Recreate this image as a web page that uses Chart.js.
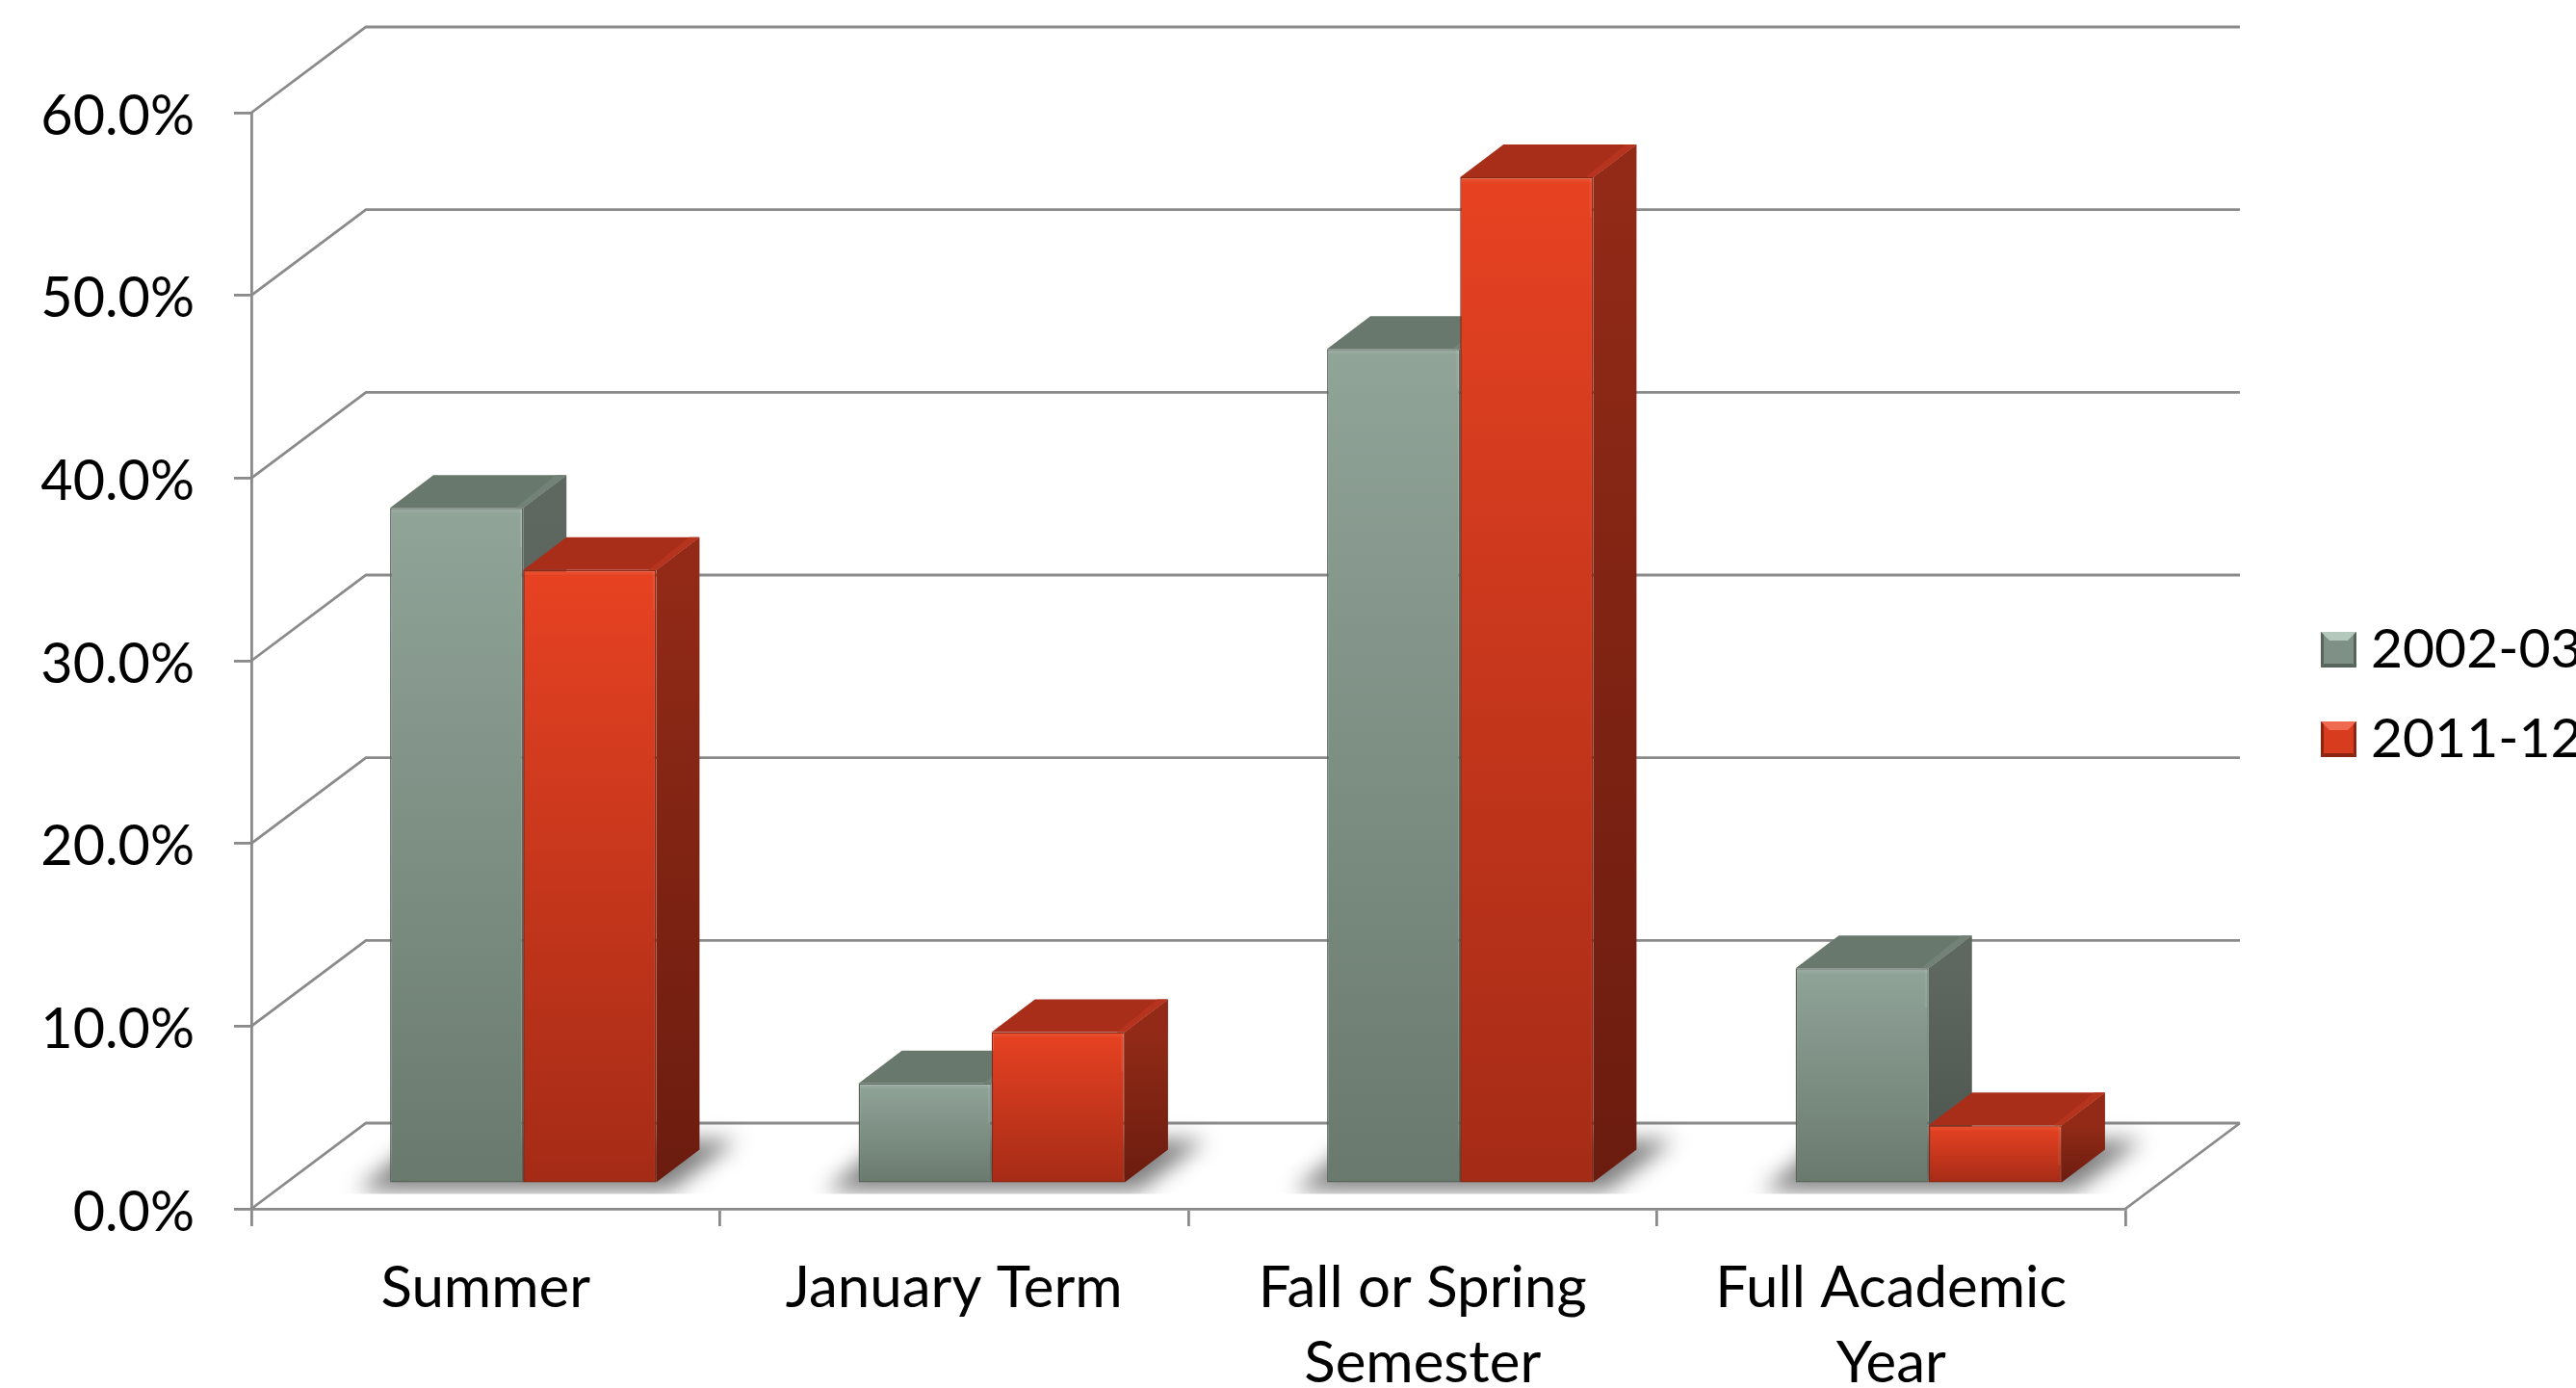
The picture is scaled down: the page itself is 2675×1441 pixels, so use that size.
<!DOCTYPE html>
<html>
<head>
<meta charset="utf-8">
<style>html,body{margin:0;padding:0;background:#fff;overflow:hidden}canvas{display:block}</style>
<script src="https://cdn.jsdelivr.net/npm/chart.js@4"></script>
</head>
<body>
<canvas id="c" width="2675" height="1441"></canvas>
<script>
const categories = ['Summer', 'January Term', ['Fall or Spring', 'Semester'], ['Full Academic', 'Year']];
const seriesNames = ['2002-03', '2011-12'];
const values2002 = [37.0, 5.5, 45.7, 11.8];
const values2011 = [33.6, 8.3, 55.1, 3.2];
const yMin = 0, yMax = 60, yStep = 10;

const FONT = 'Lato';
const LINE = '#8a8a8a';
const WALL = {dx: 119, dy: -89};
const PLANE = {dx: 39, dy: -26};
const BAR = {dx: 45, dy: -34};
const PAL = [
  {hi:'#91a498', lo:'#69796e', edge:'#56645b', topc:'#69786d', corner:'#738277', sideHi:'#5e6860', sideLo:'#4a544d', gloss:'rgba(255,255,255,.07)'},
  {hi:'#e74222', lo:'#a52b16', edge:'#8b2411', topc:'#a82e1a', corner:'#b6341d', sideHi:'#922a17', sideLo:'#6b1c0f', gloss:'rgba(255,170,120,.10)'}
];

function swatch(p){
  const s = 37, cv = document.createElement('canvas'); cv.width = cv.height = s;
  const g = cv.getContext('2d'), b = 9;
  g.fillStyle = p.hi === PAL[0].hi ? '#7f9186' : '#d83c1f';
  g.fillRect(0,0,s,s);
  const poly = (pts, col) => { g.fillStyle = col; g.beginPath(); pts.forEach((q,i)=> i?g.lineTo(q[0],q[1]):g.moveTo(q[0],q[1])); g.closePath(); g.fill(); };
  poly([[0,0],[s,0],[s-b,b],[b,b]], p.hi === PAL[0].hi ? '#b4c8bc' : '#f06a52');
  poly([[0,s],[s,s],[s-4,s-4],[4,s-4]], p.edge);
  poly([[0,0],[3,3],[3,s-3],[0,s]], p.edge);
  poly([[s,0],[s-3,3],[s-3,s-3],[s,s]], p.edge);
  return cv;
}
const swatches = PAL.map(swatch);

function barGradient(chart, p, value){
  const y = chart.scales.y;
  if (!y || typeof value !== 'number') return p.hi;
  const a = y.getPixelForValue(value), b = y.getPixelForValue(0);
  if (!isFinite(a) || !isFinite(b)) return p.hi;
  const g = chart.ctx.createLinearGradient(0, a, 0, b);
  g.addColorStop(0, p.hi); g.addColorStop(1, p.lo);
  return g;
}

function path(ctx, pts){
  ctx.beginPath();
  pts.forEach((q,i)=> i ? ctx.lineTo(q[0],q[1]) : ctx.moveTo(q[0],q[1]));
  ctx.closePath();
}

const depthPlugin = {
  id: 'depth',
  afterLayout(chart){
    const l = chart.legend;
    l.left = 2387.5; l.right = 2700; l.top = 610; l.bottom = 900;
  },
  beforeDatasetsDraw(chart){
    const {ctx, scales:{x, y}} = chart;
    // walls and floor
    ctx.save();
    ctx.strokeStyle = LINE; ctx.lineWidth = 2.8; ctx.lineJoin = 'miter';
    const wx = x.left + WALL.dx, wr = x.right + WALL.dx;
    y.ticks.forEach(t => {
      const py = y.getPixelForValue(t.value);
      ctx.beginPath();
      ctx.moveTo(x.left, py); ctx.lineTo(wx, py + WALL.dy); ctx.lineTo(wr, py + WALL.dy);
      ctx.stroke();
    });
    const y0 = y.getPixelForValue(0);
    ctx.beginPath(); ctx.moveTo(x.right, y0); ctx.lineTo(wr, y0 + WALL.dy); ctx.stroke();
    ctx.restore();

    ctx.save();
    ctx.translate(PLANE.dx, PLANE.dy);
    const m0 = chart.getDatasetMeta(0), m1 = chart.getDatasetMeta(1);
    // floor shadows
    m0.data.forEach((el, i) => {
      const a = el.getProps(['x','base','width'], true), b = m1.data[i].getProps(['x','width'], true);
      const x0 = a.x - a.width/2, x1 = b.x + b.width/2, base = a.base;
      ctx.save();
      ctx.beginPath(); ctx.rect(x0 - 120, base - 110, x1 - x0 + 300, 122); ctx.clip();
      ctx.filter = 'blur(11px)';
      ctx.fillStyle = 'rgba(0,0,0,.5)';
      path(ctx, [[x0-34, base+9],[x1+14, base+9],[x1+84, base-44],[x0+30, base-44]]);
      ctx.fill();
      ctx.restore();
    });
    // side and top faces, back series first
    [m0, m1].forEach((meta, d) => {
      const p = PAL[d];
      meta.data.forEach(el => {
        const {x:bx, y:by, base, width} = el.getProps(['x','y','base','width'], true);
        const l = bx - width/2, r = bx + width/2;
        const sg = ctx.createLinearGradient(0, by, 0, base);
        sg.addColorStop(0, p.sideHi); sg.addColorStop(1, p.sideLo);
        ctx.fillStyle = sg;
        path(ctx, [[r,by],[r+BAR.dx,by+BAR.dy],[r+BAR.dx,base+BAR.dy],[r,base]]); ctx.fill();
        ctx.fillStyle = p.topc;
        path(ctx, [[l,by],[l+BAR.dx,by+BAR.dy],[r+BAR.dx,by+BAR.dy],[r,by]]); ctx.fill();
        ctx.fillStyle = p.corner;
        path(ctx, [[r-8,by],[r+BAR.dx-11,by+BAR.dy],[r+BAR.dx,by+BAR.dy],[r,by]]); ctx.fill();
      });
    });
    // translation stays on for the library's own bars, undone in afterDatasetsDraw
  },
  afterDatasetsDraw(chart){
    const {ctx} = chart;
    [0,1].forEach(d => {
      const p = PAL[d];
      chart.getDatasetMeta(d).data.forEach(el => {
        const {x:bx, y:by, width} = el.getProps(['x','y','width'], true);
        ctx.fillStyle = p.gloss;
        ctx.fillRect(bx - width/2 + 1, by + 1, width - 2, 4);
        ctx.fillRect(bx + width/2 - 4, by + 1, 3, 40);
      });
    });
    ctx.restore();
  }
};

new Chart(document.getElementById('c'), {
  type: 'bar',
  data: {
    labels: categories,
    datasets: [
      { label: seriesNames[0], data: values2002,
        backgroundColor: c => barGradient(c.chart, PAL[0], c.raw),
        borderColor: PAL[0].edge, borderWidth: 1.5, borderSkipped: false },
      { label: seriesNames[1], data: values2011,
        backgroundColor: c => barGradient(c.chart, PAL[1], c.raw),
        borderColor: PAL[1].edge, borderWidth: 1.5, borderSkipped: false }
    ]
  },
  plugins: [depthPlugin],
  options: {
    responsive: false,
    devicePixelRatio: 1,
    animation: false,
    clip: false,
    categoryPercentage: 0.568,
    barPercentage: 1,
    layout: { padding: { top: 117, right: 218, left: 0, bottom: 0 } },
    plugins: {
      title: { display: false },
      tooltip: { enabled: false },
      legend: {
        position: 'right',
        align: 'start',
        maxWidth: 250,
        labels: {
          usePointStyle: true,
          boxWidth: 10,
          padding: 36,
          color: '#000',
          font: { family: FONT, size: 57 },
          generateLabels(chart){
            return Chart.defaults.plugins.legend.labels.generateLabels(chart)
              .map((it, i) => Object.assign(it, { pointStyle: swatches[i] }));
          }
        }
      }
    },
    scales: {
      x: {
        type: 'category',
        offset: true,
        afterFit(s){ s.height = 186; },
        grid: { display: true, offset: true, drawOnChartArea: false, drawTicks: true, tickLength: 18, color: LINE, lineWidth: 2.8 },
        border: { display: true, color: LINE, width: 2.8 },
        ticks: { color: '#000', font: { family: FONT, size: 60, lineHeight: 1.31 }, padding: 25, maxRotation: 0, autoSkip: false }
      },
      y: {
        min: yMin, max: yMax,
        afterFit(s){ s.width = 261; },
        grid: { display: true, drawOnChartArea: false, drawTicks: true, tickLength: 18, color: LINE, lineWidth: 2.8 },
        border: { display: true, color: LINE, width: 2.8 },
        ticks: { stepSize: yStep, color: '#000', font: { family: FONT, size: 57.5 }, padding: 41, labelOffset: 4,
                 callback: v => v.toFixed(1) + '%' }
      }
    }
  }
});
</script>
</body>
</html>
